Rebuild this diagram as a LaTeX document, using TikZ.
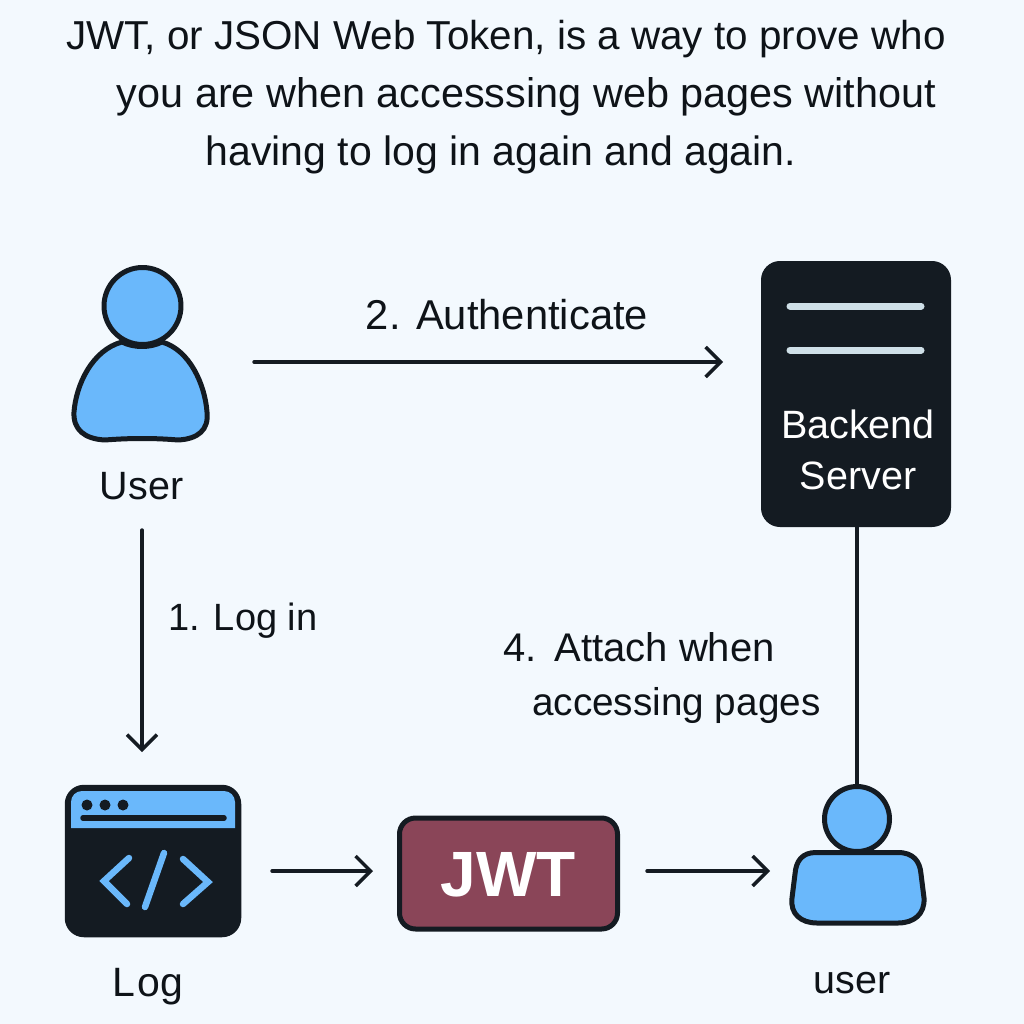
\documentclass[tikz,border=0pt]{standalone}
\usepackage{fontspec}
\setmainfont{Liberation Sans}
\usetikzlibrary{arrows.meta}
\definecolor{bgc}{HTML}{F3F9FE}
\definecolor{ink}{HTML}{141B22}
\definecolor{textink}{HTML}{0E1318}
\definecolor{sky}{HTML}{6AB8FB}
\definecolor{wine}{HTML}{8A4558}
\definecolor{pale}{HTML}{CFE0E8}
\newcommand{\fsz}[1]{\fontsize{#1}{#1}\selectfont}
\tikzset{
  x=1pt,y=-1pt,
  inkline/.style={draw=ink,line width=3.4pt,line cap=round},
  flow/.style={inkline,-{Straight Barb[length=15pt,width=30pt,line width=3.4pt]}},
  iconpart/.style={draw=ink,fill=sky,line width=5pt,line join=round},
  label/.style={text=textink,font=\fsz{39.5},inner sep=0pt,anchor=center},
  panel/.style={draw=ink,fill=ink,rounded corners=18pt,line width=2pt,inner sep=0pt},
  codeglyph/.style={draw=sky,line width=6.5pt,line cap=round,line join=miter},
}
\begin{document}
\begin{tikzpicture}
\useasboundingbox (0,0) rectangle (1024,1024);
\fill[bgc] (0,0) rectangle (1024,1024);
% title
\node[label,font=\fsz{40.4}] (t1) at (506,39) {JWT, or JSON Web Token, is a way to prove who};
\node[label,font=\fsz{41.4}] (t2) at (526.5,97) {you are when accesssing web pages without};
\node[label,font=\fsz{41}] (t3) at (501,155) {having to log in again and again.};
% server
\node[panel,minimum width=188pt,minimum height=264pt] (server) at (856,394) {};
\draw[pale,line width=7pt,line cap=round] (790,306) -- (921,306);
\draw[pale,line width=7pt,line cap=round] (790,350) -- (921,350);
\node[label,text=white] (backend) at (858,424) {Backend};
\node[label,text=white] (srv) at (858,476) {Server};
% upper user
\draw[iconpart] (122,342) .. controls (92,350) and (76,385) .. (74,412)
  .. controls (73,430) and (85,439) .. (105,440)
  .. controls (130,438) and (155,438) .. (178,440)
  .. controls (198,439) and (209,430) .. (207,412)
  .. controls (205,385) and (190,350) .. (162,342)
  .. controls (150,348) and (134,348) .. (122,342) -- cycle;
\node[iconpart,circle,minimum size=77pt,inner sep=0pt] (userhead) at (142.5,306) {};
\coordinate (userright) at (254,362);
\coordinate (authend) at (723,362);
\coordinate (userfoot) at (142,530);
\node[label] (userlabel) at (141.5,486) {User};
% lower user
\draw[iconpart] (816,852.5) -- (898,852.5)
  .. controls (913,852.5) and (920,861) .. (921,874)
  -- (924,898) .. controls (925,914) and (914,923) .. (898,923)
  -- (817,923) .. controls (801,923) and (790,914) .. (792,898)
  -- (795,874) .. controls (796,861) and (802,852.5) .. (816,852.5) -- cycle;
\node[iconpart,circle,minimum size=65pt,inner sep=0pt] (tailhead) at (857,819) {};
\node[label] (taillabel) at (852,983) {user};
\coordinate (tailleft) at (770,871);
% log window
\node[panel,minimum width=174pt,minimum height=150pt,line width=2.5pt] (win) at (153,861) {};
\fill[sky] (71,828) -- (71,802) arc[start angle=180,end angle=270,x radius=11pt,y radius=-11pt] -- (224,791) arc[start angle=270,end angle=360,x radius=11pt,y radius=-11pt] -- (235,828) -- cycle;
\fill[ink] (87,805) circle (5.5pt) (105,805) circle (5.5pt) (123,805) circle (5.5pt);
\draw[ink,line width=5.5pt,line cap=round] (83,818) -- (224,818);
\draw[codeglyph] (129,858) -- (104,881) -- (127,904);
\draw[codeglyph] (164,853) -- (145,907);
\draw[codeglyph] (183,859) -- (208,882) -- (183,904);
\node[label,font=\fsz{41}] (loglabel) at (148,987) {L\kern2pt og};
\coordinate (winright) at (272,871);
\coordinate (winfoot) at (142,752);
% JWT
\node[draw=ink,fill=wine,line width=5pt,rounded corners=16pt,minimum width=218pt,minimum height=111pt,inner sep=0pt,
  text=white,font=\fsz{64}\bfseries,text depth=0pt,yshift=0pt] (jwt) at (508.5,873.5) {\raisebox{-2pt}{JWT}};
\coordinate (jwtleft) at (373,871);
\coordinate (jwtright) at (647,871);
% connectors
\draw[flow] (userright) -- (authend);
\draw[flow] (userfoot) -- (winfoot);
\draw[flow] (winright) -- (jwtleft);
\draw[flow] (jwtright) -- (tailleft);
\draw[inkline,line cap=butt] (server.south -| tailhead) -- (tailhead.north);
% labels
\node[label,font=\fsz{41.7}] (auth) at (507,315) {2. Authenticate};
\node[label,font=\fsz{38},anchor=west] (login) at (168,621) {1. Log in};
\node[label,font=\fsz{40},anchor=west] (attach) at (503,647) {4.\kern18pt Attach when};
\node[label,font=\fsz{38.7},anchor=west] (pages) at (532,705) {accessing pages};
\end{tikzpicture}
\end{document}
